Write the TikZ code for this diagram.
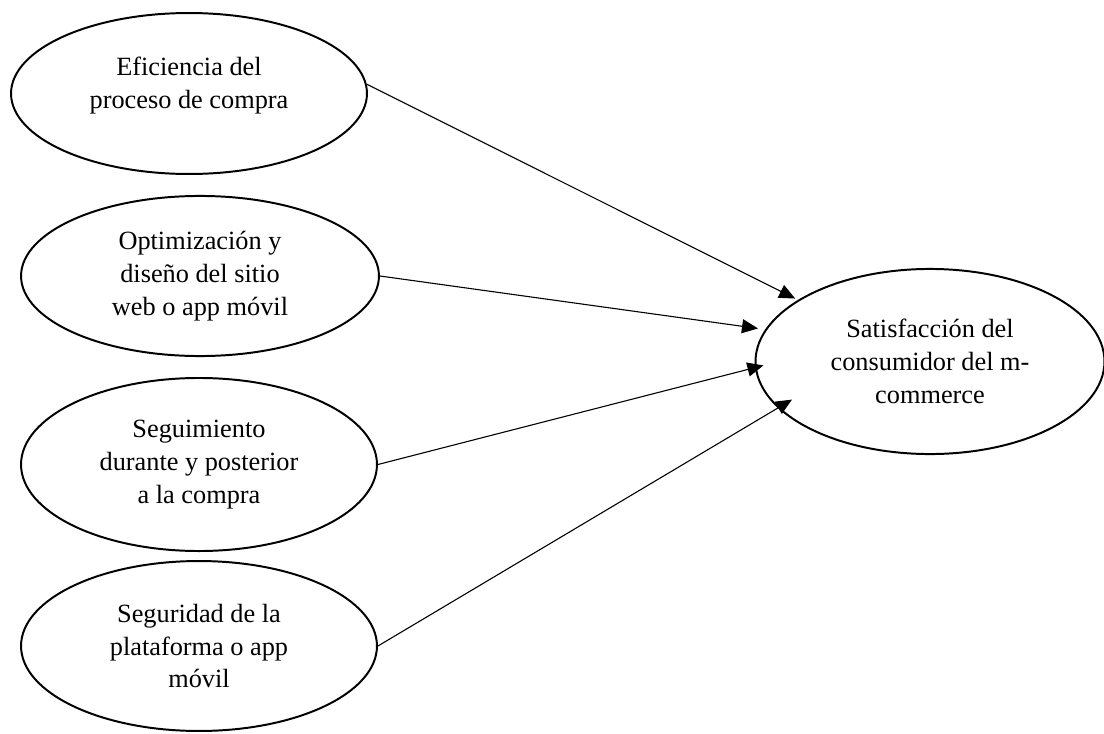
\documentclass[tikz,border=0pt]{standalone}
\usepackage{fontspec}
\setmainfont{Liberation Serif}
\usepackage{tikz}
\usetikzlibrary{shapes.geometric,arrows.meta}

\begin{document}
\begin{tikzpicture}[
        x=0.456pt, y=-0.456pt,
        >={Triangle[length=7.3pt,width=6.4pt]},
        factor/.style={ellipse, draw, line width=0.9pt, inner sep=0pt,
            align=center, font=\fontsize{12pt}{15pt}\selectfont},
        caption/.style={align=center, inner sep=0pt, font=\fontsize{12pt}{15pt}\selectfont},
        link/.style={line width=0.5pt}
        ]
        \useasboundingbox (0,0) rectangle (1104,734);

        \node[factor, minimum width=162.3pt, minimum height=73.4pt] (e1) at (189,93.5) {};
        \node[caption] (e1text) at ([yshift=3.6pt]e1.center) {Eficiencia del\\proceso de compra};
        \node[factor, minimum width=163.2pt, minimum height=73pt] (e2) at (200,276)
            {Optimización y\\diseño del sitio\\web o app móvil};
        \node[factor, minimum width=162.3pt, minimum height=78.9pt] (e3) at (199,464.5)
            {Seguimiento\\durante y posterior\\a la compra};
        \node[factor, minimum width=162.3pt, minimum height=77.5pt] (e4) at (199,646)
            {Seguridad de la\\plataforma o app\\móvil};
        \node[factor, minimum width=159.1pt, minimum height=84.4pt] (sat) at (930,361.5)
            {Satisfacción del\\consumidor del m-\\commerce};

        \path[->, link]
              (e1.3) edge[shorten >=1.4pt] (sat.155)

              (e2.0) edge[shorten >=3.3pt] (sat.169)

              (e3.0) edge[shorten >=-4pt] (sat.182)

              (e4.0) edge[shorten >=-7.5pt] (sat.197);
\end{tikzpicture}
\end{document}
